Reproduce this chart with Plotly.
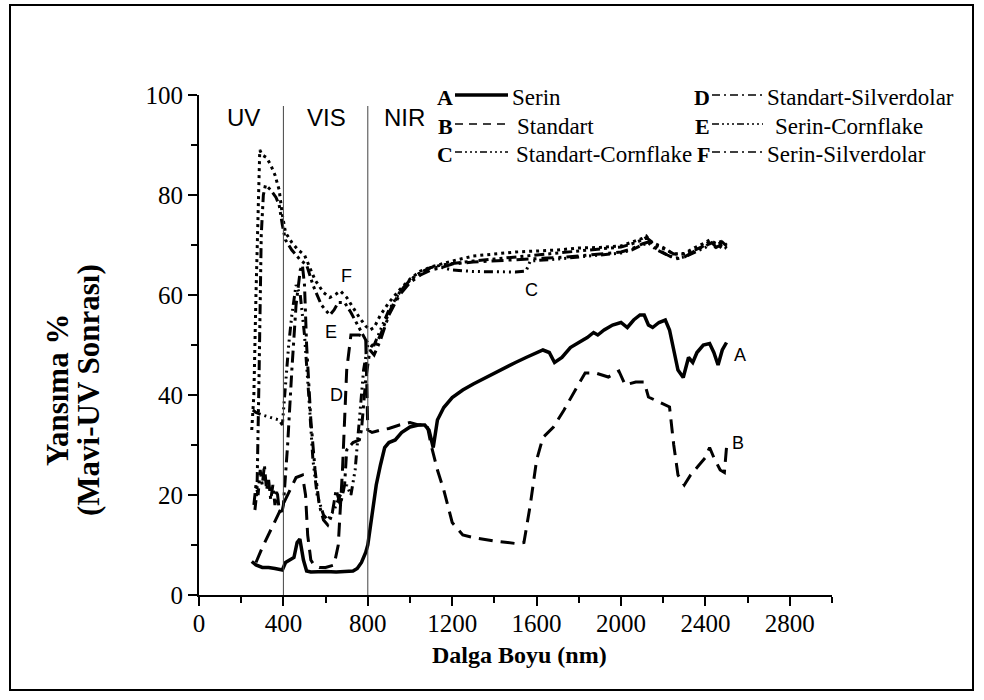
import plotly.graph_objects as go

# ---------------- data ----------------
A_x = [250,270,300,330,360,380,395,410,430,450,465,478,495,510,530,560,600,650,700,730,750,770,790,800,820,840,860,880,900,930,960,1000,1040,1070,1090,1110,1130,1160,1200,1250,1300,1350,1400,1450,1500,1550,1600,1630,1660,1685,1720,1760,1800,1840,1870,1890,1920,1960,2000,2030,2060,2090,2110,2130,2150,2180,2210,2230,2250,2270,2295,2320,2340,2360,2390,2420,2440,2460,2480,2500]
A_y = [6.7,6.0,5.5,5.5,5.3,5.2,5.0,6.5,7.0,7.5,10.5,11.2,7.0,4.8,4.6,4.7,4.7,4.6,4.7,4.8,5.3,6.5,8.5,10,16,22,26,29.5,30.5,31,32.5,33.6,34,34,33,29.5,35,37.5,39.5,41,42.2,43.3,44.3,45.5,46.5,47.5,48.5,49,48.5,46.5,47.5,49.5,50.5,51.5,52.5,52,53,54,54.5,53.5,55,56,56,54,53.5,54.5,55,53,49,45,43.5,47.5,46.5,48.5,50,50.3,48.5,46,49,50.5]

B_x = [270,300,340,380,420,460,490,505,515,530,545,570,600,640,660,680,700,720,760,790,800,820,860,900,950,1000,1040,1080,1100,1130,1160,1200,1250,1300,1400,1500,1540,1570,1600,1630,1680,1730,1790,1830,1880,1940,1990,2020,2070,2110,2130,2180,2230,2250,2270,2300,2330,2370,2400,2420,2440,2470,2490,2500]
B_y = [6.5,9.5,13,16.5,20,23.5,24,20,12,7,6,5.5,5.5,6,10,25,45,52,52,51.5,33,32.5,33,33.3,34,34.5,34,34.2,30,25,21,14.5,12,11.5,10.8,10.3,10.5,18,27,31.5,33.6,37,41.5,44.4,44.4,43.6,44.8,42,42.6,42.6,39.6,38.6,37.6,30,24,22,24,26,27.5,29.5,27.5,25,24.5,29.5]

C_x = [255,270,300,340,380,395,410,425,440,460,480,500,520,540,560,590,610,640,670,700,720,740,760,780,800,830,860,900,950,1000,1050,1100,1150,1200,1300,1400,1500,1550,1570,1700,1800,1900,2000,2050,2100,2130,2170,2220,2260,2300,2350,2400,2420,2450,2480,2500]
C_y = [37,36.5,36,35.5,35,34,42,50,56,62,60,52,40,27,20,16,15,17,20,22,20,25,35,45,50,50,53,57,60.5,63,64.5,65.5,65.5,65,64.7,64.6,64.6,64.8,66.8,67.2,67.6,68,68.4,69,70,70.4,69,68,67.4,67.6,68.5,69.5,70.3,69.5,70.2,69.4]

D_x = [260,270,280,290,300,310,320,330,340,350,360,370,380,390,400,420,440,460,480,490,500,510,530,550,570,590,610,630,650,670,690,700,730,760,770,790,810,830,860,900,950,1000,1050,1100,1150,1200,1300,1400,1500,1600,1700,1800,1900,2000,2050,2100,2130,2170,2220,2260,2300,2350,2400,2430,2460,2480,2500]
D_y = [18,22,20,25,22,26,21,23,19,22,18,21,17,16,18,30,45,58,65,66,62,50,35,25,18,15,14,16,21,18,22,29,30.5,31,33,43,49,48,51,56,60,62.5,64,65,65.5,66.2,66.6,66.8,67,67.2,67.5,67.8,68.2,68.6,69.2,70.2,70.6,69.2,68,67.2,67.6,68.8,69.8,70.5,69.2,70,69.3]

E_x = [265,275,285,295,305,315,340,365,380,395,410,440,480,510,540,580,620,640,660,690,720,760,790,810,830,860,900,950,1000,1050,1100,1150,1200,1300,1400,1500,1600,1700,1800,1900,2000,2050,2100,2120,2150,2200,2250,2300,2350,2400,2420,2450,2480,2500]
E_y = [17,21,45,72,80,82,81,79.5,78,74,71,69,67,66,62,58,56,57,58.5,58.5,56.5,53.5,51,50,49.5,52,56.5,60.5,63,64.5,65.5,66,66.3,66.8,67.2,67.6,68,68.4,68.8,69.2,69.6,70.2,71,71.5,70.5,69.5,68.2,68.2,69,70,70.8,70,70.6,69.8]

F_x = [250,260,270,280,288,300,320,340,360,380,395,410,440,470,500,520,550,590,620,650,670,700,730,760,790,810,830,860,900,950,1000,1050,1100,1150,1200,1300,1400,1500,1600,1700,1800,1900,2000,2050,2100,2120,2150,2200,2250,2300,2350,2400,2420,2450,2480,2500]
F_y = [33,40,60,80,89,88,87.5,86,84,81,76,72.5,70.5,69,68,66,63,60.5,59.5,60.2,60.8,59.5,57.5,55.5,53.8,53,53.5,56,58.5,61,63.2,64.8,65.6,66.2,66.8,67.8,68.2,68.6,68.8,69,69.4,69.5,69.8,70.5,71.3,71.8,70.2,69.3,68.2,68.3,69.5,70.5,71,70.3,70.8,70]

legend_letters = ["A", "B", "C", "D", "E", "F"]
legend_names = ["Serin", "Standart", "Standart-Cornflake",
                "Standart-Silverdolar", "Serin-Cornflake", "Serin-Silverdolar"]
curve_labels = [("A", 2565, 48), ("B", 2555, 30.4), ("C", 1575, 61),
                ("D", 650, 40), ("E", 625, 52.6), ("F", 700, 63.8)]
region_labels = [("UV", 210, 95.6), ("VIS", 605, 95.6), ("NIR", 972, 95.6)]
region_bounds = [400, 800]
x_ticks = [0, 400, 800, 1200, 1600, 2000, 2400, 2800]
y_ticks = [0, 20, 40, 60, 80, 100]

# ---------------- layout geometry (pixels) ----------------
L, R, T, B = 199, 832, 95, 595
W, H = 984, 700
def px(p):
    return (p - L) / (R - L)
def py(p):
    return (B - p) / (B - T)

SERIF = "Liberation Serif"
SANS = "Liberation Sans"

styles = [
    dict(dash="solid", width=3.5),
    dict(dash="14px,8px", width=3),
    dict(dash="9px,4px,2px,4px,2px,4px,2px,4px", width=3),
    dict(dash="12px,5px,3px,5px", width=3),
    dict(dash="10px,4px,3px,4px,3px,4px", width=3),
    dict(dash="3px,4px", width=3),
]
series = [(A_x, A_y), (B_x, B_y), (C_x, C_y), (D_x, D_y), (E_x, E_y), (F_x, F_y)]

fig = go.Figure()
for (xs, ys), st, nm in zip(series, styles, legend_names):
    fig.add_trace(go.Scatter(x=xs, y=ys, mode="lines", name=nm,
                             line=dict(color="black", width=st["width"], dash=st["dash"]),
                             showlegend=False))

shapes = []
for xb in region_bounds:
    shapes.append(dict(type="line", xref="x", yref="y", x0=xb, x1=xb, y0=0, y1=97.8,
                       line=dict(color="#444", width=1)))
# outer frame
shapes.append(dict(type="rect", xref="paper", yref="paper",
                   x0=px(10), x1=px(973), y0=py(690), y1=py(5),
                   line=dict(color="black", width=2), layer="below"))

annotations = []
# legend (drawn manually: letter, line sample, name)
leg_rows = [97, 126, 154]
leg_cols = [dict(letter_r=455, line0=455, line1=508, text_l=[510, 515, 514]),
            dict(letter_r=712, line0=712, line1=763, text_l=[765, 773, 765])]
leg_dash = ["solid", "8px,6px", "7px,3px,2px,3px,2px,3px,2px,3px",
            "8px,4px,2px,4px", "7px,3px,2px,3px,2px,3px,2px,3px", "8px,4px,2px,4px"]
for i, (let, name) in enumerate(zip(legend_letters, legend_names)):
    col = leg_cols[i // 3]
    r = leg_rows[i % 3]
    annotations.append(dict(text="<b>%s</b>" % let, xref="paper", yref="paper",
                            x=px(col["letter_r"]), y=py(r), xanchor="right", yanchor="middle",
                            showarrow=False, font=dict(family=SERIF, size=22, color="black")))
    shapes.append(dict(type="line", xref="paper", yref="paper",
                       x0=px(col["line0"]), x1=px(col["line1"]), y0=py(r - 2), y1=py(r - 2),
                       line=dict(color="black", width=3.5 if i == 0 else 1.6, dash=leg_dash[i])))
    annotations.append(dict(text=name, xref="paper", yref="paper",
                            x=px(col["text_l"][i % 3]), y=py(r), xanchor="left", yanchor="middle",
                            showarrow=False, font=dict(family=SERIF, size=23, color="black")))

for t, xv, yv in curve_labels:
    annotations.append(dict(text=t, x=xv, y=yv, xref="x", yref="y", showarrow=False,
                            xanchor="center", yanchor="middle",
                            font=dict(family=SANS, size=18, color="black")))
for t, xv, yv in region_labels:
    annotations.append(dict(text=t, x=xv, y=yv, xref="x", yref="y", showarrow=False,
                            xanchor="center", yanchor="middle",
                            font=dict(family=SANS, size=24, color="black")))

# axis titles
annotations.append(dict(text="<b>Dalga Boyu (nm)</b>", xref="paper", yref="paper",
                        x=px(519), y=py(655), showarrow=False,
                        xanchor="center", yanchor="middle",
                        font=dict(family=SERIF, size=24, color="black")))
annotations.append(dict(text="<b>Yansıma %</b>", xref="paper", yref="paper",
                        x=px(57), y=py(390), showarrow=False, textangle=-90,
                        xanchor="center", yanchor="middle",
                        font=dict(family=SERIF, size=31, color="black")))
annotations.append(dict(text="<b>(Mavi-UV Sonrası)</b>", xref="paper", yref="paper",
                        x=px(88), y=py(390), showarrow=False, textangle=-90,
                        xanchor="center", yanchor="middle",
                        font=dict(family=SERIF, size=31, color="black")))

fig.update_layout(
    width=W, height=H,
    margin=dict(l=L, r=W - R, t=T, b=H - B),
    paper_bgcolor="white", plot_bgcolor="white",
    font=dict(family=SERIF, color="black"),
    shapes=shapes, annotations=annotations,
    showlegend=False,
    xaxis=dict(range=[0, 3000], tickvals=x_ticks, ticktext=[str(v) for v in x_ticks],
               showline=True, linecolor="black", linewidth=2, mirror=False,
               ticks="outside", ticklen=9, tickwidth=2, tickcolor="black",
               ticklabelstandoff=-4,
               minor=dict(ticks="outside", ticklen=6, tickwidth=2, tickcolor="black", dtick=200, tick0=0),
               showgrid=False, zeroline=False,
               tickfont=dict(family=SERIF, size=25, color="black")),
    yaxis=dict(range=[0, 100], tickvals=y_ticks, ticktext=[str(v) for v in y_ticks],
               showline=True, linecolor="black", linewidth=2, mirror=False,
               ticks="outside", ticklen=9, tickwidth=2, tickcolor="black",
               minor=dict(ticks="outside", ticklen=6, tickwidth=2, tickcolor="black", dtick=10, tick0=0),
               showgrid=False, zeroline=False,
               tickfont=dict(family=SERIF, size=25, color="black")),
)

fig.write_html("out.html", config={"displayModeBar": False},
               post_script="document.body.style.margin='0px';document.body.style.overflow='hidden';")
